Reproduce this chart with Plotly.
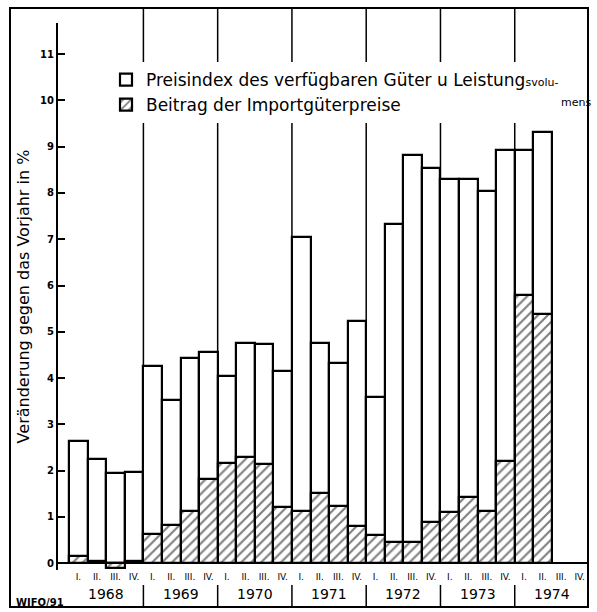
import plotly.graph_objects as go

# ---------------- data ----------------
years = ["1968", "1969", "1970", "1971", "1972", "1973", "1974"]
quarters = ["I.", "II.", "III.", "IV."]
preisindex = [2.65, 2.25, 1.95, 1.97,
              4.26, 3.53, 4.43, 4.57,
              4.05, 4.76, 4.74, 4.16,
              7.05, 4.75, 4.33, 5.24,
              3.60, 7.33, 8.82, 8.54,
              8.30, 8.30, 8.04, 8.93,
              8.93, 9.31, None, None]
importbeitrag = [0.15, 0.04, -0.10, 0.05,
                 0.63, 0.82, 1.12, 1.83,
                 2.16, 2.29, 2.15, 1.22,
                 1.13, 1.52, 1.24, 0.80,
                 0.61, 0.45, 0.45, 0.90,
                 1.11, 1.43, 1.14, 2.22,
                 5.80, 5.38, None, None]
y_ticks = list(range(0, 12))

# ---------------- layout geometry ----------------
W, H = 597, 612
L, R, T, B = 58, 589, 23, 570
XMIN, XMAX = -0.6, 28
YMIN, YMAX = -0.145, 11.67


def xp(px):
    return (px - L) / (R - L)


def yp(py):
    return (B - py) / (B - T)


def qx(q):
    return (q - XMIN) / (XMAX - XMIN)


n = len(years) * len(quarters)
xpos = [i + 0.5 for i in range(n)]
qlabels = [quarters[i % 4] for i in range(n)]

fig = go.Figure()
fig.add_trace(go.Bar(
    x=xpos, y=preisindex, width=1.0,
    name="Preisindex des verfügbaren Güter u Leistung<span style='font-size:11px'>svolu-</span>",
    marker=dict(color="white", line=dict(color="black", width=2.2)),
))
fig.add_trace(go.Bar(
    x=xpos, y=importbeitrag, width=1.0,
    name="Beitrag der Importgüterpreise",
    marker=dict(color="white", line=dict(color="black", width=2.2),
                pattern=dict(shape="/", fgcolor="black", bgcolor="white",
                             size=7, solidity=0.3)),
))

shapes = []
# outer frame
shapes.append(dict(type="rect", xref="paper", yref="paper",
                   x0=xp(10), x1=xp(588), y0=yp(607), y1=yp(8),
                   line=dict(color="black", width=2), layer="above"))
# year separators
for k in range(1, len(years)):
    x = qx(4 * k)
    shapes.append(dict(type="line", xref="paper", yref="paper",
                       x0=x, x1=x, y0=yp(563), y1=yp(8),
                       line=dict(color="black", width=1.5), layer="below"))
    shapes.append(dict(type="line", xref="paper", yref="paper",
                       x0=x, x1=x, y0=yp(585), y1=yp(607),
                       line=dict(color="black", width=1.5), layer="above"))

annotations = []
for k, yr in enumerate(years):
    annotations.append(dict(x=4 * k + 2, xref="x", y=yp(594), yref="paper",
                            xanchor="center", yanchor="middle",
                            text=yr, showarrow=False,
                            font=dict(size=14, color="black")))
annotations.append(dict(x=xp(40), xref="paper", y=yp(602), yref="paper",
                        xanchor="center", yanchor="middle",
                        text="WIFO/91", showarrow=False,
                        font=dict(size=10, color="black", weight="bold")))
annotations.append(dict(x=xp(576), xref="paper", y=yp(103), yref="paper",
                        xanchor="center", yanchor="middle",
                        text="mens", showarrow=False,
                        font=dict(size=11, color="black")))

fig.update_layout(
    width=W, height=H,
    margin=dict(l=L, r=W - R, t=T, b=H - B, autoexpand=False),
    paper_bgcolor="white", plot_bgcolor="white",
    barmode="overlay", bargap=0,
    font=dict(family="DejaVu Sans", color="black"),
    showlegend=True,
    legend=dict(x=xp(106), y=yp(62), xanchor="left", yanchor="top",
                bgcolor="white", borderwidth=0,
                font=dict(size=17, color="black"),
                traceorder="normal", tracegroupgap=0),
    xaxis=dict(range=[XMIN, XMAX], tickvals=xpos, ticktext=qlabels,
               showgrid=False, zeroline=False, showline=False, ticks="",
               tickfont=dict(size=9, color="black"), fixedrange=True),
    yaxis=dict(range=[YMIN, YMAX], tickvals=y_ticks,
               showgrid=False, zeroline=True, zerolinecolor="black",
               zerolinewidth=2, showline=True, linecolor="black",
               linewidth=2, ticks="inside", ticklen=7, tickwidth=1.5,
               tickcolor="black",
               tickfont=dict(size=10, color="black", weight="bold"),
               title=dict(text="Veränderung gegen das Vorjahr in %",
                          font=dict(size=16, color="black"), standoff=6)),
    shapes=shapes,
    annotations=annotations,
)

fig.write_html("out.html",
               config={"displayModeBar": False},
               post_script="document.body.style.margin='0';document.body.style.overflow='hidden';")
